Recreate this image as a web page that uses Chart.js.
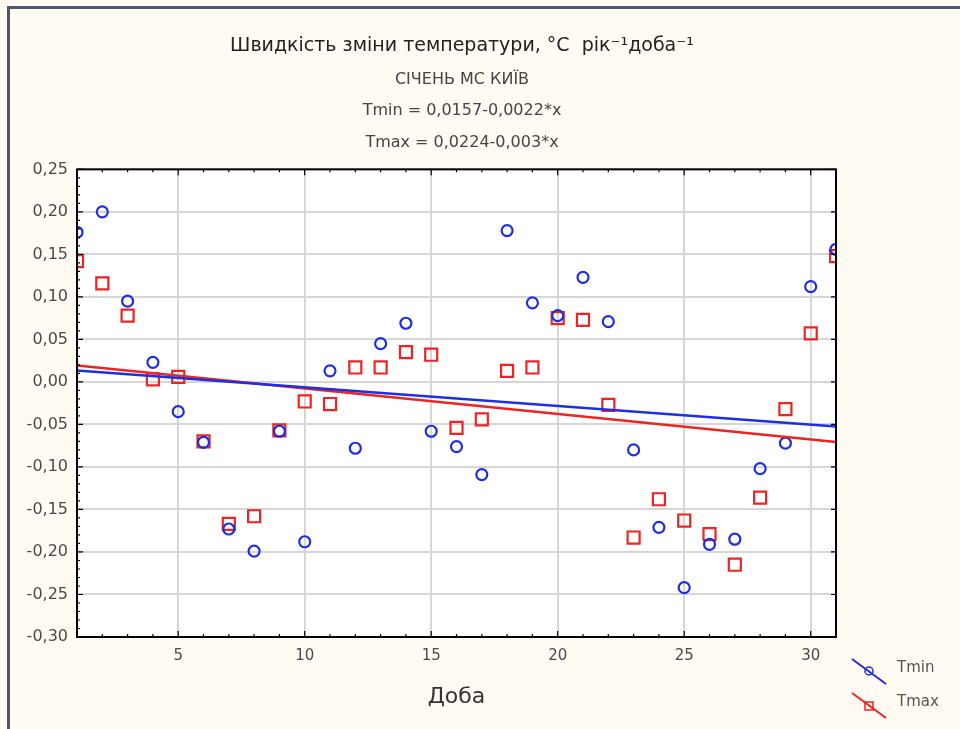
<!DOCTYPE html>
<html>
<head>
<meta charset="utf-8">
<script src="https://cdn.jsdelivr.net/npm/chart.js@4/dist/chart.umd.min.js"></script>
<style>
  html, body { margin: 0; padding: 0; background: #fffaf2; }
  #wrap { position: relative; width: 960px; height: 729px; }
</style>
</head>
<body>
<div id="wrap"><canvas id="c"></canvas></div>
<script>
// ---- data ----
const days = [1,2,3,4,5,6,7,8,9,10,11,12,13,14,15,16,17,18,19,20,21,22,23,24,25,26,27,28,29,30,31];
const tminValues = [0.176, 0.200, 0.095, 0.023, -0.035, -0.071, -0.173, -0.199, -0.058, -0.188,
                    0.013, -0.078, 0.045, 0.069, -0.058, -0.076, -0.109, 0.178, 0.093, 0.078,
                    0.123, 0.071, -0.080, -0.171, -0.242, -0.191, -0.185, -0.102, -0.072, 0.112, 0.156];
const tmaxValues = [0.142, 0.116, 0.078, 0.003, 0.006, -0.070, -0.167, -0.158, -0.057, -0.023,
                    -0.026, 0.017, 0.017, 0.035, 0.032, -0.054, -0.044, 0.013, 0.017, 0.075,
                    0.073, -0.027, -0.183, -0.138, -0.163, -0.179, -0.215, -0.136, -0.032, 0.057, 0.148];
const fitDays = [1, 31];
const tminFit = [0.0135, -0.0525];
const tmaxFit = [0.0194, -0.0706];
const xTickValues = [5, 10, 15, 20, 25, 30];
const yTickValues = [-0.30, -0.25, -0.20, -0.15, -0.10, -0.05, 0.00, 0.05, 0.10, 0.15, 0.20, 0.25];
const titleText = 'Швидкість зміни температури, °C  рік⁻¹доба⁻¹';
const subtitleLines = ['СІЧЕНЬ МС КИЇВ', 'Tmin = 0,0157-0,0022*x', 'Tmax = 0,0224-0,003*x'];
const xAxisTitle = 'Доба';
const seriesNames = ['Tmin', 'Tmax'];

const BLUE = '#1f2fe0';
const RED = '#ec2424';
const FONT = "'DejaVu Sans', 'Liberation Sans', sans-serif";

const toPts = (xs, ys) => xs.map((x, i) => ({ x: x, y: ys[i] }));

const decor = {
  id: 'decor',
  beforeDraw(chart) {
    const { ctx, chartArea: a } = chart;
    ctx.save();
    ctx.fillStyle = '#fffaf2';
    ctx.fillRect(0, 0, chart.width, chart.height);
    ctx.fillStyle = '#ffffff';
    ctx.fillRect(a.left, a.top, a.right - a.left, a.bottom - a.top);
    ctx.fillStyle = '#4a5872';
    ctx.fillRect(7, 6, chart.width - 7, 3);
    ctx.fillRect(7, 6, 3, chart.height - 6);
    ctx.restore();
  },
  afterDatasetsDraw(chart) {
    const { ctx, chartArea: a, scales } = chart;
    const xs = scales.x, ys = scales.y;
    ctx.save();
    ctx.strokeStyle = '#000';
    ctx.lineWidth = 1.2;
    ctx.beginPath();
    for (let d = 1; d <= 31; d++) {
      const px = xs.getPixelForValue(d);
      const len = d % 5 === 0 ? 6 : 3;
      ctx.moveTo(px, a.bottom); ctx.lineTo(px, a.bottom - len);
      ctx.moveTo(px, a.top); ctx.lineTo(px, a.top + len);
    }
    for (let k = -30; k <= 25; k++) {
      const py = ys.getPixelForValue(k / 100);
      const major = k % 5 === 0;
      ctx.moveTo(a.left, py); ctx.lineTo(a.left + (major ? 6 : 3), py);
      if (major) { ctx.moveTo(a.right, py); ctx.lineTo(a.right - 5, py); }
    }
    ctx.stroke();
    ctx.lineWidth = 2;
    ctx.strokeRect(a.left, a.top, a.right - a.left, a.bottom - a.top);

    const items = [
      { label: seriesNames[0], color: BLUE, y: 671, circle: true },
      { label: seriesNames[1], color: RED, y: 705, circle: false }
    ];
    items.forEach(it => {
      ctx.strokeStyle = it.color;
      ctx.lineWidth = 2;
      ctx.beginPath();
      ctx.moveTo(852, it.y - 12); ctx.lineTo(886, it.y + 13);
      ctx.stroke();
      ctx.lineWidth = 1.5;
      ctx.beginPath();
      if (it.circle) ctx.arc(869, it.y, 4, 0, Math.PI * 2);
      else ctx.rect(865, it.y - 3, 8, 8);
      ctx.stroke();
      ctx.fillStyle = '#555';
      ctx.font = '15px ' + FONT;
      ctx.textAlign = 'left';
      ctx.textBaseline = 'middle';
      ctx.fillText(it.label, 897, it.y - 3);
    });
    ctx.restore();
  }
};

new Chart(document.getElementById('c'), {
  type: 'scatter',
  data: {
    datasets: [
      { type: 'line', label: 'Tmin fit', data: toPts(fitDays, tminFit), borderColor: BLUE, borderWidth: 2.5, pointRadius: 0, fill: false },
      { type: 'line', label: 'Tmax fit', data: toPts(fitDays, tmaxFit), borderColor: RED, borderWidth: 2.5, pointRadius: 0, fill: false },
      { label: seriesNames[0], data: toPts(days, tminValues), pointStyle: 'circle', pointRadius: 5.5, borderColor: BLUE, backgroundColor: 'rgba(0,0,0,0)', borderWidth: 2.2, showLine: false },
      { label: seriesNames[1], data: toPts(days, tmaxValues), pointStyle: 'rect', pointRadius: 8.5, borderColor: RED, backgroundColor: 'rgba(0,0,0,0)', borderWidth: 2.2, showLine: false }
    ]
  },
  options: {
    responsive: true,
    maintainAspectRatio: false,
    animation: false,
    layout: { padding: { left: 0, right: 36, top: 0, bottom: 0 } },
    plugins: {
      legend: { display: false },
      tooltip: { enabled: false },
      title: {
        display: true, text: titleText, color: '#222',
        font: { family: FONT, size: 19, weight: 'normal', lineHeight: 1.2 },
        padding: { top: 35, bottom: 0 }
      },
      subtitle: {
        display: true, text: subtitleLines, color: '#444',
        font: { family: FONT, size: 16, weight: 'normal', lineHeight: 1.97 },
        padding: { top: 6, bottom: 11 }
      }
    },
    scales: {
      x: {
        type: 'linear', min: 1, max: 31,
        afterBuildTicks: s => { s.ticks = xTickValues.map(v => ({ value: v })); },
        afterFit: s => { s.height = 92; },
        grid: { color: '#d6d6d6', lineWidth: 2, drawTicks: false },
        border: { display: false },
        ticks: { color: '#4a4a4a', font: { family: FONT, size: 15 }, padding: 10 },
        title: { display: true, text: xAxisTitle, color: '#333', font: { family: FONT, size: 22 }, padding: { top: 0, bottom: 19 } }
      },
      y: {
        type: 'linear', min: -0.30, max: 0.25,
        afterBuildTicks: s => { s.ticks = yTickValues.map(v => ({ value: v })); },
        afterFit: s => { s.width = 77; },
        grid: { color: '#d6d6d6', lineWidth: 2, drawTicks: false },
        border: { display: false },
        ticks: { color: '#4a4a4a', font: { family: FONT, size: 16 }, padding: 9,
                 callback: v => v.toFixed(2).replace('.', ',').replace(/^-0,00$/, '0,00') }
      },
      y2: {
        type: 'linear', position: 'right', display: true,
        afterFit: s => { s.width = 88; },
        grid: { display: false, drawTicks: false },
        border: { display: false },
        ticks: { display: false }
      }
    }
  },
  plugins: [decor]
});
</script>
</body>
</html>
